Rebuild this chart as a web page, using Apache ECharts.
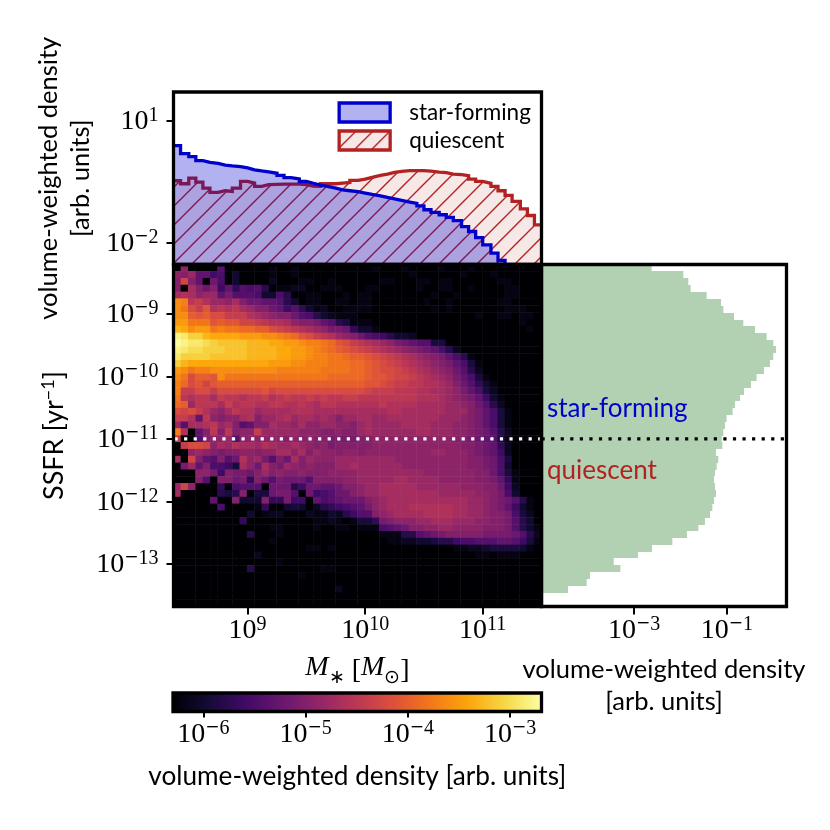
<!DOCTYPE html>
<html>
<head>
<meta charset="utf-8">
<script src="https://cdn.jsdelivr.net/npm/echarts@6/dist/echarts.min.js"></script>
<style>html,body{margin:0;padding:0;background:#fff}#c{width:830px;height:830px}</style>
</head>
<body>
<div id="c"></div>
<script>
// log10 of stellar-mass bin edges
const logMassEdges = [8.37,8.43,8.50,8.56,8.62,8.68,8.75,8.81,8.87,8.94,9.00,9.06,9.12,9.18,9.25,9.31,9.37,9.44,9.50,9.56,9.62,9.69,9.75,9.81,9.87,9.94,10.00,10.06,10.13,10.19,10.25,10.31,10.38,10.44,10.50,10.56,10.63,10.69,10.75,10.82,10.88,10.94,11.00,11.07,11.13,11.19,11.25,11.32,11.38,11.44,11.50];
// log10 of SSFR bin edges, top to bottom
const logSsfrEdges = [-8.21,-8.32,-8.43,-8.54,-8.65,-8.76,-8.87,-8.98,-9.09,-9.19,-9.30,-9.41,-9.52,-9.63,-9.74,-9.85,-9.96,-10.07,-10.18,-10.29,-10.40,-10.51,-10.62,-10.73,-10.84,-10.95,-11.05,-11.16,-11.27,-11.38,-11.49,-11.60,-11.71,-11.82,-11.93,-12.04,-12.15,-12.26,-12.37,-12.48,-12.59,-12.70,-12.81,-12.91,-13.02,-13.13,-13.24,-13.35,-13.46,-13.57,-13.68];

const starFormingDensity = [2.43,1.54,1.30,1.04,0.94,0.89,0.81,0.77,0.74,0.69,0.62,0.58,0.55,0.51,0.45,0.40,0.37,0.32,0.29,0.26,0.24,0.22,0.20,0.19,0.18,0.166,0.154,0.143,0.13,0.12,0.11,0.10,0.093,0.081,0.065,0.056,0.049,0.042,0.035,0.025,0.019,0.0135,0.0089,0.0056,0.0037,0.0025,0.0016,0.0009,0.0005,0.0002];
const quiescentDensity = [0.334,0.282,0.389,0.31,0.22,0.173,0.19,0.183,0.22,0.322,0.293,0.243,0.267,0.272,0.277,0.277,0.277,0.267,0.247,0.243,0.282,0.282,0.293,0.304,0.341,0.367,0.404,0.452,0.488,0.536,0.568,0.589,0.589,0.589,0.578,0.546,0.526,0.488,0.47,0.444,0.367,0.322,0.288,0.243,0.19,0.146,0.104,0.0685,0.047,0.0277];
// SSFR marginal histogram, top to bottom
const ssfrDensity = [0.0024,0.0115,0.0147,0.0165,0.0365,0.0743,0.0834,0.1415,0.2244,0.40,0.713,0.99,1.13,0.99,0.84,0.625,0.434,0.328,0.232,0.19,0.149,0.132,0.098,0.0905,0.0834,0.0768,0.0794,0.058,0.065,0.06,0.0552,0.0526,0.0552,0.058,0.0526,0.0484,0.0431,0.0336,0.0242,0.0138,0.00668,0.00244,0.00122,0.000366,0.000508,0.000113,0.000096,0.000038];

// 2D histogram: each number is -10*log10(density); rows top to bottom, columns left to right
const heatRows = [
[64,49,64,64,64,64,54,64,64,64,64,64,64,62,63,63,62,63,63,63,63,63,63,63,63,63,63,62,63,63,63,62,63,63,63,63,62,63,63,63,62,63,63,63,63,63,63,63,63,63],
[49,50,48,53,53,56,55,64,60,64,64,64,63,62,63,63,62,63,63,63,63,63,63,63,63,63,63,63,63,63,63,63,62,63,63,63,63,63,63,62,63,63,63,62,63,63,63,63,63,63],
[50,43,50,53,64,52,55,64,60,64,64,64,63,61,63,63,63,62,62,63,63,62,63,63,63,63,63,63,62,62,63,63,63,62,62,63,62,62,63,63,63,63,63,63,62,62,63,63,63,63],
[50,64,47,50,52,50,56,53,57,54,55,54,58,64,62,62,61,61,63,63,62,62,62,63,63,63,62,62,63,63,63,63,63,62,63,63,62,62,63,63,62,63,63,63,63,62,62,63,63,63],
[47,46,47,49,48,48,53,51,54,54,54,55,60,60,55,58,63,63,62,62,63,63,63,62,63,62,62,63,64,63,63,63,63,63,63,62,63,63,62,63,63,63,63,63,63,62,62,63,63,63],
[36,37,45,44,46,48,48,49,47,50,52,52,53,53,54,58,60,63,62,62,63,63,62,62,63,62,62,63,63,63,63,64,63,63,62,63,63,62,63,63,63,63,63,63,62,62,63,63,63,63],
[36,38,42,44,41,46,45,46,45,47,48,50,50,52,53,56,54,57,60,62,61,63,63,62,62,62,62,63,63,63,63,63,63,64,64,62,63,62,63,63,63,63,63,63,63,62,62,62,63,63],
[36,36,40,41,40,42,42,44,44,44,46,47,48,49,50,50,52,54,55,58,60,61,62,62,62,63,63,63,63,63,63,63,63,63,63,63,63,63,63,63,63,62,63,63,62,62,63,62,62,63],
[35,35,38,38,38,41,40,41,41,43,43,44,45,46,46,47,49,50,50,51,53,54,58,59,62,62,62,63,63,63,63,63,63,63,63,63,63,63,63,63,63,63,63,63,63,63,63,62,63,63],
[33,34,36,35,35,38,37,38,38,39,39,40,40,42,43,44,45,46,47,48,49,51,51,52,57,60,60,62,63,63,63,63,63,63,63,63,63,63,63,63,63,63,63,63,63,63,63,63,62,63],
[28,29,31,31,33,34,34,34,34,35,35,35,36,36,37,38,39,41,42,44,45,46,48,49,50,52,54,55,56,58,60,60,61,63,63,63,63,63,63,63,63,63,63,63,63,64,63,63,63,63],
[27,28,29,29,30,31,32,32,32,32,33,33,33,34,34,35,35,36,37,37,38,39,41,42,44,45,46,47,48,49,51,52,53,54,54,59,59,63,63,63,63,63,63,63,63,63,63,64,63,63],
[28,29,30,30,31,31,31,32,32,32,33,33,33,33,34,34,35,35,36,37,38,39,40,41,42,43,44,45,46,47,48,49,50,51,52,53,55,58,61,63,63,63,63,63,63,63,63,63,63,63],
[29,31,31,31,31,32,32,32,32,32,33,33,33,33,34,34,35,35,36,37,37,38,38,39,40,40,41,42,43,44,45,46,47,48,49,50,51,53,55,58,62,63,63,63,63,63,63,63,63,63],
[31,33,34,34,34,34,34,34,34,34,34,34,34,35,35,35,36,36,37,37,37,38,38,38,39,39,40,41,42,43,44,45,46,47,48,49,50,51,53,55,59,62,63,63,63,63,63,63,63,63],
[35,36,38,37,37,36,36,36,36,36,36,36,36,36,37,37,37,37,37,37,38,38,38,38,39,39,40,41,42,42,43,44,45,46,47,48,49,50,52,54,58,61,63,63,63,63,63,63,63,63],
[36,38,42,40,40,41,36,38,38,38,38,38,38,38,38,38,38,38,38,38,38,39,39,39,39,39,40,41,41,42,43,43,44,45,46,47,48,49,51,53,55,59,62,63,63,63,63,63,63,63],
[37,39,42,41,43,41,40,40,40,40,40,40,40,40,40,40,40,40,40,40,40,40,40,40,40,40,41,41,42,43,44,44,45,45,46,46,47,48,50,52,54,57,60,62,63,63,63,63,63,63],
[37,44,44,42,42,44,42,42,42,42,42,42,41,43,42,42,42,42,42,42,42,42,42,42,42,42,43,44,44,44,45,45,45,46,46,47,47,48,49,51,53,55,59,61,63,63,63,63,63,63],
[38,45,46,45,45,47,44,45,45,46,45,45,44,46,45,44,45,45,44,45,44,45,45,44,44,45,45,45,45,45,45,45,45,46,46,46,47,48,49,50,51,53,56,60,62,63,63,63,63,63],
[39,40,48,45,45,45,47,44,46,45,45,46,46,45,45,46,46,45,46,47,45,45,46,46,46,46,46,46,45,46,46,46,46,47,47,47,47,48,48,49,50,52,54,58,61,63,63,63,63,63],
[42,43,42,44,46,48,49,47,45,46,46,48,47,47,47,47,46,46,46,47,47,47,47,47,47,47,47,47,47,46,46,47,47,47,47,47,47,48,48,48,50,51,53,55,59,62,63,63,63,63],
[44,44,46,53,45,49,50,49,49,47,46,50,48,48,47,46,48,47,47,48,47,48,50,48,48,47,47,48,48,47,47,47,47,47,47,47,48,48,48,49,50,51,53,55,59,62,63,63,63,63],
[48,54,47,47,46,45,48,47,50,54,53,50,50,47,48,48,49,47,49,49,48,48,49,49,50,48,47,48,48,48,48,47,47,47,47,48,48,48,49,49,50,51,53,55,59,62,63,63,63,63],
[37,46,64,53,50,45,50,45,50,49,49,44,48,48,48,48,48,49,49,49,50,50,49,50,50,48,47,48,48,48,48,48,48,47,47,48,48,48,49,49,50,51,52,54,58,61,63,63,63,63],
[44,64,64,54,50,49,49,48,54,50,49,49,49,49,49,50,49,50,49,50,50,51,51,51,51,50,50,49,49,49,49,49,49,49,49,49,49,49,50,50,51,52,53,54,59,62,63,63,63,63],
[64,44,42,42,43,49,47,48,46,47,47,48,46,47,48,48,47,48,49,50,49,51,50,50,50,50,50,49,49,49,49,49,49,49,49,49,49,49,49,50,50,51,52,53,57,61,63,63,63,63],
[64,64,49,48,49,50,51,50,50,49,49,50,49,49,47,47,49,47,50,48,49,49,50,49,49,50,49,49,49,49,49,49,49,49,49,48,48,49,49,49,50,51,52,53,56,61,63,63,63,63],
[47,64,43,50,53,54,50,54,52,46,49,48,51,54,50,52,47,50,48,49,49,49,48,48,48,48,48,48,48,48,49,49,49,49,49,49,49,49,49,49,50,50,51,52,55,59,63,63,63,63],
[64,51,48,53,50,55,55,56,59,47,49,52,47,50,51,48,49,50,49,50,50,50,48,48,47,48,48,48,48,48,48,49,49,49,49,49,49,49,49,49,50,50,51,52,55,60,63,63,63,63],
[64,64,64,49,49,51,56,50,51,51,52,50,48,50,49,50,50,49,50,50,50,49,49,49,49,48,48,48,48,48,48,48,48,48,49,49,49,49,49,49,49,50,50,52,55,59,62,63,63,63],
[64,64,64,50,54,64,50,50,52,51,57,50,52,54,51,52,52,52,54,50,50,50,50,49,49,48,48,48,48,48,47,47,48,48,48,48,49,49,49,49,49,50,50,51,53,57,62,63,63,63],
[48,43,49,64,64,64,57,64,55,54,54,54,64,52,52,52,58,56,52,52,53,53,52,50,50,49,48,48,47,47,47,47,47,48,48,48,48,48,48,49,49,49,50,50,52,56,61,63,63,63],
[47,64,64,64,64,64,58,59,58,50,64,59,59,52,51,51,54,64,52,56,55,54,52,52,50,49,48,48,47,47,47,47,47,47,47,47,48,48,48,48,48,49,49,50,51,55,60,63,63,63],
[64,64,64,64,64,53,64,64,50,60,60,60,50,57,57,51,56,56,64,53,55,54,53,52,52,52,50,49,48,47,47,47,47,47,47,47,47,47,47,47,48,48,49,50,51,52,54,58,62,63],
[64,64,64,64,64,64,55,64,64,64,64,62,57,64,64,60,59,60,63,61,58,57,56,55,54,53,51,49,48,47,47,47,46,46,46,46,46,46,47,47,48,48,49,50,51,53,56,60,62,63],
[64,64,64,64,64,64,64,64,64,64,60,64,62,61,61,64,64,64,61,62,62,60,61,58,56,54,54,50,49,48,47,47,47,47,46,46,46,46,47,47,48,48,49,50,50,51,55,59,61,63],
[64,64,64,64,64,64,64,64,64,57,64,64,64,64,64,64,64,63,64,62,62,61,62,63,62,59,59,57,51,50,49,49,49,48,48,47,47,47,48,48,48,49,49,50,50,51,54,58,60,63],
[64,64,64,64,64,64,64,64,64,64,64,64,64,62,62,64,64,63,64,62,63,63,62,62,63,62,62,62,55,54,53,52,50,50,49,49,48,48,49,49,49,49,50,50,50,51,54,58,60,62],
[64,64,64,64,64,64,64,64,64,64,58,64,64,64,62,64,64,64,63,63,63,64,64,63,63,64,64,63,62,62,62,58,58,54,53,52,51,50,50,50,50,50,51,51,51,51,52,54,58,61],
[64,64,64,64,64,64,64,64,64,64,64,64,64,62,64,64,64,64,63,63,63,64,63,63,63,63,63,63,63,62,62,61,61,60,60,59,58,58,56,55,55,54,54,54,53,53,54,56,59,62],
[64,64,64,64,64,64,64,64,64,64,64,64,64,64,64,64,64,64,62,62,64,62,63,63,63,63,63,63,63,63,63,63,63,63,63,63,63,63,62,62,61,61,60,59,59,59,59,60,62,63],
[64,64,64,64,64,64,64,64,64,64,64,61,64,64,64,64,64,64,64,64,63,64,64,64,63,63,63,63,63,64,64,63,63,63,63,63,63,63,63,63,63,62,62,63,62,62,62,63,63,63],
[64,64,64,64,64,64,64,64,64,64,64,64,64,64,62,64,64,64,64,64,64,64,64,64,64,63,64,64,63,63,63,63,63,63,64,64,63,63,63,63,63,63,63,63,63,63,63,63,63,64],
[64,64,64,64,64,64,64,64,64,64,58,64,64,64,64,64,64,64,64,64,62,62,63,63,64,63,63,64,64,63,64,63,63,63,64,63,63,63,63,63,63,63,63,63,64,63,63,63,63,64],
[64,64,64,64,64,64,64,64,64,64,64,64,64,64,64,64,64,62,64,64,64,64,64,64,64,64,64,63,64,64,64,63,64,64,63,64,63,63,64,63,63,63,63,64,63,63,64,63,63,64],
[64,64,64,64,64,64,64,64,64,64,64,64,64,64,64,64,64,64,64,64,64,64,64,64,64,64,64,64,64,64,63,64,64,64,64,63,64,64,64,63,63,64,64,63,63,64,64,63,63,64],
[64,64,64,64,64,64,64,64,64,64,64,64,64,64,64,64,64,64,64,64,64,64,61,64,64,64,64,64,64,64,64,64,64,64,64,64,64,64,64,64,64,64,64,64,64,63,64,63,63,64],
[64,64,64,64,64,64,64,64,64,64,64,64,64,64,64,64,64,64,64,64,64,64,64,64,64,64,64,64,64,64,64,64,64,64,64,64,64,64,64,64,64,64,64,64,64,64,64,64,64,64],
[64,64,64,64,64,64,64,64,64,64,64,64,64,64,64,64,64,64,64,64,64,64,64,64,64,64,64,64,64,64,64,64,64,64,64,64,64,64,64,64,64,64,64,64,64,64,64,64,64,64]
];

const massTicks = [1e9, 1e10, 1e11];
const ssfrTicks = [1e-9, 1e-10, 1e-11, 1e-12, 1e-13];
const topTicks = [10, 0.01];
const rightTicks = [1e-3, 1e-1];
const colorTicks = [1e-6, 1e-5, 1e-4, 1e-3];
const quenchingSsfr = 1e-11;
const colorRange = [-6.296, -2.692];
const infernoStops = ['#000004','#160b39','#420a68','#6a176e','#932667','#bc3754','#dd513a','#f37819','#fca50a','#f6d746','#fcffa4'];

const SANS = 'Lato';
const SERIF = 'Liberation Serif';
const BLUE = '#0000cd';
const RED = '#b22222';

const massMin = Math.pow(10, logMassEdges[0]), massMax = Math.pow(10, logMassEdges[50]);
const ssfrMax = Math.pow(10, logSsfrEdges[0]), ssfrMin = Math.pow(10, logSsfrEdges[50]);

function hatch(size) {
  const c = document.createElement('canvas');
  c.width = size; c.height = size;
  const g = c.getContext('2d');
  g.fillStyle = 'rgba(178,34,34,0.1)';
  g.fillRect(0, 0, size, size);
  g.strokeStyle = RED; g.lineWidth = 1.4;
  g.beginPath();
  g.moveTo(-2, size + 2); g.lineTo(size + 2, -2);
  g.moveTo(-2, 2); g.lineTo(2, -2);
  g.moveTo(size - 2, size + 2); g.lineTo(size + 2, size - 2);
  g.stroke();
  return c;
}
const hatchArea = { image: hatch(19), repeat: 'repeat' };
const hatchLegend = { image: hatch(17), repeat: 'repeat' };

function sci(v) {
  const e = Math.round(Math.log10(v));
  return '{b|10}' + (e < 0 ? '{m|\u2212}' : '') + '{s|' + Math.abs(e) + '}';
}
const sciRich = {
  b: { fontFamily: SERIF, fontSize: 28, color: '#000', verticalAlign: 'bottom', lineHeight: 30, padding: [3, 0, 0, 0] },
  m: { fontFamily: 'DejaVu Sans', fontSize: 17, color: '#000', verticalAlign: 'top', lineHeight: 20 },
  s: { fontFamily: SERIF, fontSize: 20, color: '#000', verticalAlign: 'top', lineHeight: 20 }
};
function logAxis(grid, min, max, ticks, margin, tickLen, extra) {
  return Object.assign({
    type: 'log', logBase: 10, gridIndex: grid, min, max, scale: true, nameMoveOverlap: false,
    axisLine: { show: false },
    splitLine: { show: false }, minorTick: { show: false }, minorSplitLine: { show: false },
    axisTick: { show: true, length: tickLen, inside: false, lineStyle: { color: '#000', width: 2 }, customValues: ticks },
    axisLabel: { show: true, margin: margin, formatter: sci, rich: sciRich, customValues: ticks }
  }, extra);
}
const nameStyle = { fontFamily: SANS, fontSize: 25.5, color: '#000', lineHeight: 32 };
const frame = { show: true, borderColor: '#000', borderWidth: 3.3, backgroundColor: 'transparent', z: 10 };

function stepData(values) {
  const d = values.map((v, i) => [Math.pow(10, logMassEdges[i]), v]);
  d.push([massMax, values[values.length - 1]]);
  return d;
}
const ssfrRows = ssfrDensity.map((v, i) => [Math.pow(10, logSsfrEdges[i + 1]), Math.pow(10, logSsfrEdges[i]), v]);
const heatData = [];
heatRows.forEach((row, i) => row.forEach((n, j) => heatData.push([j, 49 - i, -n / 10])));
const massBins = logMassEdges.slice(0, 50).map(String);
const ssfrBins = logSsfrEdges.slice(1).reverse().map(String);

const option = {
  animation: false,
  backgroundColor: '#fff',
  grid: [
    Object.assign({ left: 173.5, top: 92, width: 368, height: 172.5 }, frame),
    Object.assign({ left: 173.5, top: 264.5, width: 368, height: 342 }, frame),
    Object.assign({ left: 541.5, top: 264.5, width: 245, height: 342 }, frame),
    Object.assign({ left: 173, top: 693, width: 368.5, height: 18.5 }, frame)
  ],
  xAxis: [
    logAxis(0, massMin, massMax, [], 4, 6, { axisTick: { show: false }, axisLabel: { show: false } }),
    logAxis(1, massMin, massMax, massTicks, 8.5, 8, {
      name: '{i|M}{u|\u2217} [{i|M}{u|\u2299}]', nameLocation: 'middle', nameGap: 47,
      nameTextStyle: { fontFamily: SERIF, fontSize: 28, color: '#000', rich: {
        i: { fontFamily: SERIF, fontStyle: 'italic', fontSize: 28, verticalAlign: 'top', lineHeight: 34 },
        u: { fontFamily: SERIF, fontSize: 19, verticalAlign: 'bottom', lineHeight: 34 } } }
    }),
    { type: 'category', gridIndex: 1, position: 'top', data: massBins, show: false, boundaryGap: true },
    logAxis(2, Math.pow(10, -4.99), Math.pow(10, 0.28), rightTicks, 8.5, 8, {
      name: 'volume-weighted density\n[arb. units]', nameLocation: 'middle', nameGap: 47, nameTextStyle: nameStyle
    }),
    logAxis(3, Math.pow(10, colorRange[0]), Math.pow(10, colorRange[1]), colorTicks, 7.5, 6, {
      name: 'volume-weighted density [arb. units]', nameLocation: 'middle', nameGap: 52,
      nameTextStyle: { fontFamily: SANS, fontSize: 26.2, color: '#000' }
    })
  ],
  yAxis: [
    logAxis(0, Math.pow(10, -2.53), Math.pow(10, 1.70), topTicks, 15, 7, {
      name: 'volume-weighted density\n[arb. units]', nameLocation: 'middle', nameRotate: 90, nameGap: 77, nameTextStyle: nameStyle
    }),
    logAxis(1, ssfrMin, ssfrMax, ssfrTicks, 15, 7, {
      name: 'SSFR [yr{n|\u22121}]', nameLocation: 'middle', nameRotate: 90, nameGap: 104,
      nameTextStyle: { fontFamily: SANS, fontSize: 27, color: '#000', rich: { n: { fontFamily: SANS, fontSize: 18, verticalAlign: 'top', lineHeight: 30 } } }
    }),
    { type: 'category', gridIndex: 1, position: 'right', data: ssfrBins, show: false, boundaryGap: true },
    logAxis(2, ssfrMin, ssfrMax, [], 8, 6, { show: false }),
    { type: 'value', gridIndex: 3, min: 0, max: 1, show: false }
  ],
  legend: {
    left: 337.5, top: 101, padding: 0, orient: 'vertical', itemWidth: 51, itemHeight: 19, itemGap: 5,
    selectedMode: false,
    textStyle: { fontFamily: SANS, fontSize: 22.5, color: '#000', padding: [0, 0, 0, 14] },
    data: [
      { name: 'star-forming', icon: 'rect', itemStyle: { color: 'rgba(0,0,205,0.3)', borderColor: BLUE, borderWidth: 3.3 } },
      { name: 'quiescent', icon: 'rect', itemStyle: { color: hatchLegend, borderColor: RED, borderWidth: 3.3 } }
    ]
  },
  visualMap: {
    show: false, type: 'continuous', seriesIndex: 2, dimension: 2,
    min: colorRange[0], max: colorRange[1],
    inRange: { color: infernoStops }, outOfRange: { color: infernoStops[0] }
  },
  graphic: [
    { type: 'text', left: 547, top: 396, z: 20, style: { text: 'star-forming', fill: BLUE, fontFamily: SANS, fontSize: 26 } },
    { type: 'text', left: 547, top: 458, z: 20, style: { text: 'quiescent', fill: RED, fontFamily: SANS, fontSize: 26 } }
  ],
  series: [
    { name: 'quiescent', type: 'line', xAxisIndex: 0, yAxisIndex: 0, step: 'end', showSymbol: false, clip: true,
      data: stepData(quiescentDensity), lineStyle: { color: RED, width: 3.3, join: 'miter' }, itemStyle: { color: RED },
      areaStyle: { color: hatchArea, origin: 'start', opacity: 1 }, z: 2 },
    { name: 'star-forming', type: 'line', xAxisIndex: 0, yAxisIndex: 0, step: 'end', showSymbol: false, clip: true,
      data: stepData(starFormingDensity), lineStyle: { color: BLUE, width: 3.3, join: 'miter' }, itemStyle: { color: BLUE },
      areaStyle: { color: 'rgba(0,0,205,0.3)', origin: 'start', opacity: 1 }, z: 3 },
    { name: 'density map', type: 'heatmap', xAxisIndex: 2, yAxisIndex: 2, data: heatData, progressive: 0, silent: true, z: 2 },
    { name: 'quenching line (map)', type: 'line', xAxisIndex: 1, yAxisIndex: 1, showSymbol: false, silent: true,
      data: [[massMin, quenchingSsfr], [massMax, quenchingSsfr]],
      lineStyle: { color: '#fff', width: 3.2, type: [3.2, 6.37], dashOffset: -1 }, z: 5 },
    { name: 'SSFR marginal', type: 'custom', xAxisIndex: 3, yAxisIndex: 3, silent: true, clip: true, z: 2,
      encode: { x: 2, y: [0, 1] }, data: ssfrRows,
      renderItem: function (p, api) {
        const a = api.coord([api.value(2), api.value(1)]);
        const b = api.coord([api.value(2), api.value(0)]);
        const left = p.coordSys.x;
        const y0 = Math.round(a[1]), y1 = Math.round(b[1]);
        return { type: 'rect', shape: { x: left, y: y0, width: a[0] - left, height: y1 - y0 }, style: { fill: 'rgba(0,100,0,0.3)' } };
      } },
    { name: 'quenching line (marginal)', type: 'line', xAxisIndex: 3, yAxisIndex: 3, showSymbol: false, silent: true,
      data: [[Math.pow(10, -4.99), quenchingSsfr], [Math.pow(10, 0.28), quenchingSsfr]],
      lineStyle: { color: '#000', width: 3.2, type: [3.2, 6.37] }, z: 5 },
    { name: 'colorbar', type: 'custom', xAxisIndex: 4, yAxisIndex: 4, silent: true, z: 2,
      encode: { x: [0, 1], y: 2 },
      data: [[Math.pow(10, colorRange[0]), Math.pow(10, colorRange[1]), 0, 1]],
      renderItem: function (p, api) {
        const a = api.coord([api.value(0), api.value(3)]);
        const b = api.coord([api.value(1), api.value(2)]);
        return { type: 'rect', shape: { x: a[0], y: a[1], width: b[0] - a[0], height: b[1] - a[1] },
          style: { fill: new echarts.graphic.LinearGradient(0, 0, 1, 0, infernoStops.map((c, i) => ({ offset: i / 10, color: c }))) } };
      } }
  ]
};
const chart = echarts.init(document.getElementById('c'), null, { renderer: 'canvas', width: 830, height: 830 });
chart.setOption(option);
</script>
</body>
</html>
